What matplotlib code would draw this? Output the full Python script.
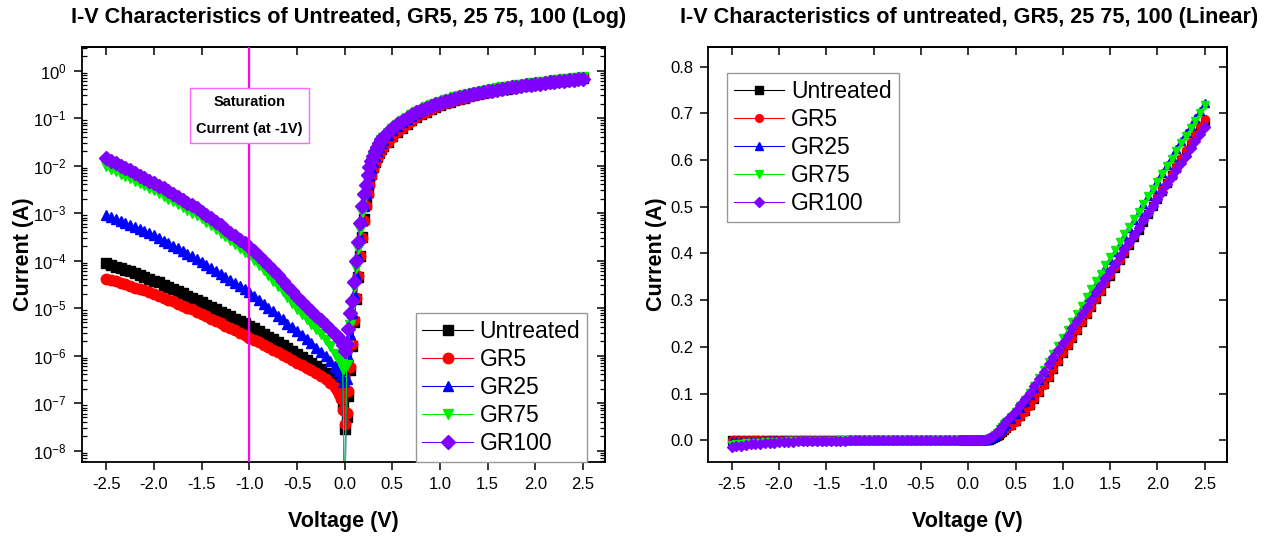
import numpy as np
import matplotlib
matplotlib.use('Agg')
import matplotlib.pyplot as plt
from matplotlib.ticker import LogLocator, MultipleLocator, NullFormatter, FormatStrFormatter

plt.rcParams['font.family'] = ['Liberation Sans', 'DejaVu Sans']
plt.rcParams['axes.unicode_minus'] = False
plt.rcParams['mathtext.fontset'] = 'custom'
plt.rcParams['mathtext.rm'] = 'Liberation Sans'
plt.rcParams['mathtext.default'] = 'regular'

# ---------------- data ----------------
series_names = ['Untreated', 'GR5', 'GR25', 'GR75', 'GR100']

# voltage grid (V)
v_rev = [-2.50, -2.45, -2.40, -2.35, -2.30, -2.25, -2.20, -2.15, -2.10, -2.05,
         -2.00, -1.95, -1.90, -1.85, -1.80, -1.75, -1.70, -1.65, -1.60, -1.55,
         -1.50, -1.45, -1.40, -1.35, -1.30, -1.25, -1.20, -1.15, -1.10, -1.05,
         -1.00, -0.95, -0.90, -0.85, -0.80, -0.75, -0.70, -0.65, -0.60, -0.55,
         -0.50, -0.45, -0.40, -0.35, -0.30, -0.25, -0.20, -0.15]
v_mid = [-0.10, -0.08, -0.06, -0.04, -0.02, 0.00, 0.02, 0.04, 0.06, 0.08,
         0.10, 0.12, 0.14, 0.16, 0.18, 0.20, 0.22, 0.24, 0.26, 0.28,
         0.30, 0.32, 0.34, 0.36, 0.38, 0.40]
v_fwd = [0.45, 0.50, 0.55, 0.60, 0.65, 0.70, 0.75, 0.80, 0.85, 0.90, 0.95, 1.00,
         1.05, 1.10, 1.15, 1.20, 1.25, 1.30, 1.35, 1.40, 1.45, 1.50,
         1.55, 1.60, 1.65, 1.70, 1.75, 1.80, 1.85, 1.90, 1.95, 2.00,
         2.05, 2.10, 2.15, 2.20, 2.25, 2.30, 2.35, 2.40, 2.45, 2.50]

# reverse region: log10(|I| / A)
untreated_rev = [-4.06, -4.09, -4.13, -4.16, -4.20, -4.23, -4.27, -4.31, -4.34, -4.38,
                 -4.42, -4.46, -4.51, -4.55, -4.60, -4.65, -4.69, -4.74, -4.78, -4.83,
                 -4.88, -4.93, -4.98, -5.03, -5.08, -5.13, -5.17, -5.22, -5.27, -5.32,
                 -5.37, -5.42, -5.48, -5.54, -5.60, -5.66, -5.72, -5.78, -5.84, -5.90,
                 -5.97, -6.03, -6.09, -6.16, -6.22, -6.29, -6.36, -6.44]
gr5_rev = [-4.38, -4.41, -4.44, -4.47, -4.50, -4.54, -4.57, -4.60, -4.63, -4.67,
           -4.70, -4.74, -4.78, -4.82, -4.86, -4.91, -4.95, -4.99, -5.03, -5.08,
           -5.12, -5.17, -5.22, -5.27, -5.32, -5.37, -5.42, -5.47, -5.52, -5.57,
           -5.62, -5.67, -5.72, -5.77, -5.82, -5.88, -5.93, -5.98, -6.04, -6.09,
           -6.15, -6.20, -6.26, -6.31, -6.37, -6.43, -6.50, -6.58]
gr25_rev = [-3.04, -3.08, -3.12, -3.16, -3.20, -3.25, -3.29, -3.33, -3.38, -3.42,
            -3.47, -3.52, -3.58, -3.63, -3.69, -3.74, -3.80, -3.86, -3.91, -3.97,
            -4.03, -4.09, -4.15, -4.21, -4.28, -4.34, -4.41, -4.47, -4.54, -4.60,
            -4.67, -4.75, -4.83, -4.91, -4.99, -5.07, -5.16, -5.24, -5.33, -5.40,
            -5.48, -5.57, -5.65, -5.74, -5.83, -5.92, -6.01, -6.11]
gr75_rev = [-2.02, -2.07, -2.12, -2.17, -2.22, -2.27, -2.32, -2.37, -2.42, -2.47,
            -2.52, -2.58, -2.64, -2.70, -2.75, -2.81, -2.87, -2.93, -2.99, -3.05,
            -3.11, -3.18, -3.26, -3.33, -3.41, -3.49, -3.57, -3.65, -3.73, -3.81,
            -3.89, -3.99, -4.09, -4.20, -4.31, -4.42, -4.53, -4.65, -4.77, -4.89,
            -5.02, -5.12, -5.23, -5.34, -5.45, -5.55, -5.67, -5.80]
gr100_rev = [-1.85, -1.90, -1.95, -2.00, -2.05, -2.10, -2.16, -2.21, -2.26, -2.32,
             -2.37, -2.43, -2.48, -2.54, -2.60, -2.66, -2.72, -2.78, -2.84, -2.90,
             -2.97, -3.04, -3.11, -3.18, -3.26, -3.33, -3.41, -3.48, -3.56, -3.63,
             -3.71, -3.80, -3.90, -4.00, -4.10, -4.20, -4.31, -4.42, -4.53, -4.65,
             -4.77, -4.87, -4.97, -5.07, -5.17, -5.26, -5.35, -5.44]

# region around zero: log10(|I| / A)
untreated_mid = [-6.53, -6.60, -6.68, -6.80, -7.05, -7.55, -7.30, -6.85, -6.30, -5.80,
                 -5.30, -4.80, -4.35, -3.90, -3.50, -3.12, -2.80, -2.55, -2.35, -2.18,
                 -2.04, -1.92, -1.82, -1.73, -1.65, -1.58]
gr5_mid = [-6.67, -6.73, -6.80, -6.92, -7.15, -7.45, -7.20, -6.75, -6.25, -5.75,
           -5.25, -4.78, -4.33, -3.90, -3.52, -3.16, -2.85, -2.60, -2.40, -2.22,
           -2.07, -1.95, -1.84, -1.75, -1.67, -1.60]
gr25_mid = [-6.22, -6.27, -6.33, -6.40, -6.55, -9.50, -6.50, -6.00, -5.55, -5.10,
            -4.70, -4.30, -3.90, -3.50, -3.15, -2.85, -2.60, -2.38, -2.20, -2.05,
            -1.92, -1.80, -1.70, -1.61, -1.53, -1.46]
gr75_mid = [-5.96, -6.03, -6.10, -6.18, -6.28, -9.50, -6.20, -5.80, -5.35, -4.95,
            -4.55, -4.15, -3.75, -3.35, -3.00, -2.70, -2.47, -2.27, -2.10, -1.95,
            -1.83, -1.73, -1.63, -1.55, -1.47, -1.41]
gr100_mid = [-5.54, -5.59, -5.64, -5.70, -5.78, -5.90, -5.75, -5.45, -5.10, -4.85,
             -4.45, -4.00, -3.60, -3.20, -2.85, -2.60, -2.40, -2.20, -2.03, -1.90,
             -1.80, -1.70, -1.60, -1.52, -1.45, -1.39]

# forward region: current (A)
untreated_fwd = [0.032, 0.041, 0.051, 0.062, 0.075, 0.089, 0.104, 0.120, 0.136, 0.153, 0.170, 0.187,
                 0.204, 0.220, 0.237, 0.253, 0.270, 0.286, 0.303, 0.319, 0.336, 0.352,
                 0.369, 0.385, 0.402, 0.418, 0.435, 0.451, 0.468, 0.484, 0.501, 0.517,
                 0.534, 0.550, 0.567, 0.583, 0.600, 0.616, 0.633, 0.649, 0.666, 0.682]
gr5_fwd = [0.031, 0.040, 0.050, 0.061, 0.074, 0.088, 0.103, 0.119, 0.135, 0.152, 0.169, 0.186,
           0.203, 0.219, 0.236, 0.253, 0.270, 0.286, 0.303, 0.320, 0.337, 0.353,
           0.370, 0.387, 0.404, 0.420, 0.437, 0.454, 0.471, 0.487, 0.504, 0.521,
           0.538, 0.554, 0.571, 0.588, 0.605, 0.621, 0.638, 0.655, 0.672, 0.688]
gr25_fwd = [0.045, 0.056, 0.069, 0.083, 0.097, 0.113, 0.129, 0.146, 0.163, 0.180, 0.197, 0.215,
            0.232, 0.249, 0.266, 0.284, 0.301, 0.318, 0.335, 0.353, 0.370, 0.387,
            0.404, 0.421, 0.438, 0.455, 0.472, 0.489, 0.506, 0.522, 0.539, 0.556,
            0.573, 0.590, 0.607, 0.624, 0.640, 0.657, 0.673, 0.690, 0.706, 0.722]
gr75_fwd = [0.049, 0.060, 0.073, 0.087, 0.101, 0.117, 0.133, 0.150, 0.168, 0.185, 0.202, 0.219,
            0.237, 0.254, 0.271, 0.288, 0.306, 0.323, 0.340, 0.357, 0.375, 0.392,
            0.408, 0.424, 0.441, 0.457, 0.473, 0.489, 0.506, 0.522, 0.538, 0.554,
            0.571, 0.587, 0.603, 0.619, 0.636, 0.652, 0.668, 0.684, 0.701, 0.717]
gr100_fwd = [0.052, 0.063, 0.075, 0.088, 0.101, 0.116, 0.132, 0.147, 0.163, 0.178, 0.194, 0.209,
             0.224, 0.240, 0.255, 0.271, 0.286, 0.301, 0.317, 0.332, 0.348, 0.363,
             0.378, 0.394, 0.409, 0.425, 0.440, 0.455, 0.471, 0.486, 0.502, 0.517,
             0.532, 0.548, 0.563, 0.579, 0.594, 0.609, 0.625, 0.640, 0.656, 0.671]

rev_logs = [untreated_rev, gr5_rev, gr25_rev, gr75_rev, gr100_rev]
mid_logs = [untreated_mid, gr5_mid, gr25_mid, gr75_mid, gr100_mid]
fwd_amps = [untreated_fwd, gr5_fwd, gr25_fwd, gr75_fwd, gr100_fwd]

x_ticks = [-2.5, -2.0, -1.5, -1.0, -0.5, 0.0, 0.5, 1.0, 1.5, 2.0, 2.5]
sat_voltage = -1.0

# ---------------- styles ----------------
colors = ['#000000', '#FF0000', '#0000FF', '#00EE00', '#8000FF']
markers = ['s', 'o', '^', 'v', 'D']

V = np.array(v_rev + v_mid + v_fwd)

fig = plt.figure(figsize=(12.7, 5.36), dpi=100)
W, H = 1270.0, 536.0
axL = fig.add_axes([81.7 / W, 1 - 462 / H, (605 - 81.7) / W, (462 - 47) / H])
axR = fig.add_axes([708.3 / W, 1 - 462 / H, (1227.3 - 708.3) / W, (462 - 47) / H])

handlesL, handlesR = [], []
for name, rl, ml, fa, c, m in zip(series_names, rev_logs, mid_logs, fwd_amps, colors, markers):
    absI = np.concatenate([10.0 ** np.array(rl), 10.0 ** np.array(ml), np.array(fa)])
    I = np.sign(V) * absI
    msL = 7.5 if m != 'D' else 7.0
    hL, = axL.plot(V, absI, color=c, lw=0.8, marker=m, ms=msL, mec=c, mfc=c, label=name)
    msR = 5.5 if m != 'D' else 5.2
    hR, = axR.plot(V, I, color=c, lw=0.8, marker=m, ms=msR, mec=c, mfc=c, label=name)
    handlesL.append(hL)
    handlesR.append(hR)

# ---- left (log) panel ----
axL.set_yscale('log')
axL.set_xlim(-2.758, 2.73)
axL.set_ylim(10 ** -8.24, 10 ** 0.495)
axL.axvline(sat_voltage, color='#FF00FF', lw=1.6, zorder=5)
axL.text(sat_voltage, 10 ** -0.95, 'Saturation\nCurrent (at -1V)', ha='center', va='center',
         fontsize=10.5, fontweight='bold', linespacing=2.2, zorder=6,
         bbox=dict(boxstyle='square,pad=0.45', fc='white', ec='#FF66FF', lw=1.0))

# ---- right (linear) panel ----
axR.set_xlim(-2.747, 2.738)
axR.set_ylim(-0.0465, 0.842)
axR.yaxis.set_major_locator(MultipleLocator(0.1))
axR.yaxis.set_major_formatter(FormatStrFormatter('%.1f'))

for ax in (axL, axR):
    ax.set_xticks(x_ticks)
    ax.xaxis.set_major_formatter(FormatStrFormatter('%.1f'))
    for sp in ax.spines.values():
        sp.set_linewidth(1.3)
    ax.tick_params(axis='both', which='major', direction='out', length=6, width=1.1,
                   labelsize=12, pad=5, top=False, right=False)
    ax.set_xlabel('Voltage (V)', fontsize=15.5, fontweight='bold')
    ax.set_ylabel('Current (A)', fontsize=15.5, fontweight='bold')
    ax.xaxis.set_label_coords(0.5, -0.118)
    secx = ax.secondary_xaxis('top')
    secx.set_xticks(x_ticks)
    secx.tick_params(direction='in', length=6, width=1.1, labeltop=False)
    secx.spines['top'].set_linewidth(1.3)

axL.yaxis.set_label_coords(-0.091, 0.5)
axR.yaxis.set_label_coords(-0.080, 0.5)

axL.yaxis.set_major_locator(LogLocator(base=10, numticks=20))
axL.yaxis.set_minor_locator(LogLocator(base=10, subs=np.arange(2, 10), numticks=20))
axL.yaxis.set_minor_formatter(NullFormatter())
axL.tick_params(axis='y', which='minor', direction='in', length=3.5, width=0.9, right=False)

secyL = axL.secondary_yaxis('right')
secyL.yaxis.set_major_locator(LogLocator(base=10, numticks=20))
secyL.yaxis.set_minor_locator(LogLocator(base=10, subs=np.arange(2, 10), numticks=20))
secyL.yaxis.set_minor_formatter(NullFormatter())
secyL.tick_params(which='major', direction='in', length=6, width=1.1, labelright=False)
secyL.tick_params(which='minor', direction='in', length=3.5, width=0.9, labelright=False)
secyL.spines['right'].set_linewidth(1.3)

secyR = axR.secondary_yaxis('right')
secyR.yaxis.set_major_locator(MultipleLocator(0.1))
secyR.tick_params(which='major', direction='in', length=6, width=1.1, labelright=False)
secyR.spines['right'].set_linewidth(1.3)

legL = axL.legend(handles=handlesL, loc='lower right', bbox_to_anchor=(0.966, 0.0),
                  borderaxespad=0, fontsize=16.5, frameon=True, fancybox=False, framealpha=1,
                  edgecolor='#999999', handlelength=2.2, handletextpad=0.3,
                  labelspacing=0.22, borderpad=0.3, numpoints=1)
legL.get_frame().set_linewidth(1.0)
legL.set_zorder(10)

legR = axR.legend(handles=handlesR, loc='upper left', bbox_to_anchor=(0.036, 0.937),
                  borderaxespad=0, fontsize=16.5, frameon=True, fancybox=False, framealpha=1,
                  edgecolor='#999999', handlelength=2.2, handletextpad=0.3,
                  labelspacing=0.22, borderpad=0.3, numpoints=1)
legR.get_frame().set_linewidth(1.0)

fig.text(349 / W, 1 - 17 / H, 'I-V Characteristics of Untreated, GR5, 25 75, 100 (Log)',
         ha='center', va='center', fontsize=15.6, fontweight='bold')
fig.text(969 / W, 1 - 17 / H, 'I-V Characteristics of untreated, GR5, 25 75, 100 (Linear)',
         ha='center', va='center', fontsize=15.6, fontweight='bold')

fig.savefig('out.png', dpi=100)
